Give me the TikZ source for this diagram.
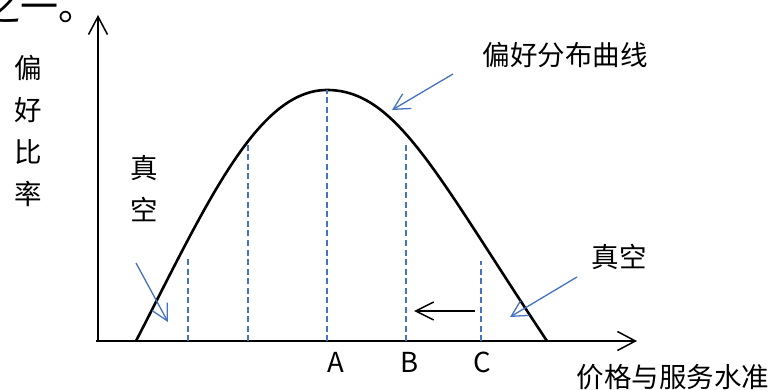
\documentclass[tikz,border=0pt]{standalone}
\usepackage{fontspec}
\setmainfont{Noto Sans CJK SC}
\usetikzlibrary{arrows.meta}
\definecolor{lineblue}{RGB}{68,114,196}

\begin{document}
\begin{tikzpicture}[
    x=1pt, y=-1pt,
    axis/.style={line width=1.5pt, -{Straight Barb[length=18pt, width=19pt]}},
    curve/.style={line width=2.6pt},
    guide/.style={lineblue, line width=1.4pt, dash pattern=on 6pt off 3.5pt},
    pointer/.style={lineblue, line width=1.3pt, -{Straight Barb[length=16pt, width=17pt]}},
    moveleft/.style={line width=1.5pt, -{Straight Barb[length=18pt, width=18pt]}},
    label/.style={font=\fontsize{27.5}{42}\selectfont, inner sep=0pt, align=center},
]
\useasboundingbox (0,0) rectangle (771,390);
\clip (0,0) rectangle (771,390);

% Text cut from the page above
\node[anchor=base west, inner sep=0pt, font=\fontsize{38}{40}\selectfont] (prev) at (-18,21) {之一。};

% Axes
\coordinate (origin) at (98,341);
\coordinate (xstart) at (96,341);
\coordinate (ytop) at (98,15);
\coordinate (xend) at (637,341);
\draw[axis] (origin) -- (ytop);
\draw[axis] (xstart) -- (xend);

% Curve
\draw[curve] (136,341) .. controls (206,205) and (257,90) .. (327,90)
    .. controls (397,90) and (437,176) .. (547,341);

% Dashed guides
\foreach \x/\y in {188/257, 248/143, 327/90, 406/145, 481/261}
    \draw[guide] (\x,341) -- (\x,\y);

% Labels
\node[label] (yname) at (28,131) {偏\\好\\比\\率};
\node[label] (gapleft) at (144,189) {真\\空};
\node[label] (gapright) at (619,257) {真空};
\node[label] (cname) at (565,55) {偏好分布曲线};
\node[label] (xname) at (673,377) {价格与服务水准};
\node[label] (pa) at (336,362) {A};
\node[label] (pb) at (410,362) {B};
\node[label] (pc) at (482,362) {C};

% Pointers
\coordinate (cfrom) at (453,74);
\coordinate (cto) at (392,110);
\coordinate (lfrom) at (136,263);
\coordinate (lto) at (168,322);
\coordinate (rfrom) at (577,277);
\coordinate (rto) at (510,317);
\draw[pointer] (cfrom) -- (cto);
\draw[pointer] (lfrom) -- (lto);
\draw[pointer] (rfrom) -- (rto);

% Shift from C towards B
\coordinate (sfrom) at (475,311);
\coordinate (sto) at (414,311);
\draw[moveleft] (sfrom) -- (sto);

\end{tikzpicture}
\end{document}
